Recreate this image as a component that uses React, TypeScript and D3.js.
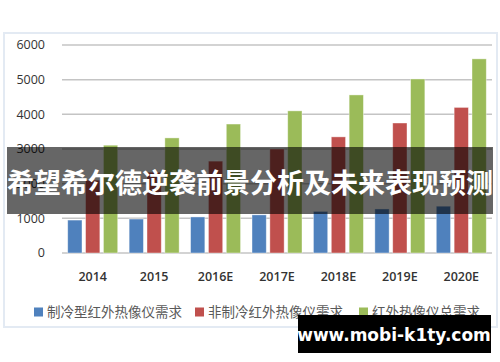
import React, { useEffect, useRef } from "react";
import * as d3 from "d3";

const categories = ["2014", "2015", "2016E", "2017E", "2018E", "2019E", "2020E"];
const seriesNames = ["制冷型红外热像仪需求", "非制冷红外热像仪需求", "红外热像仪总需求"];
const cooled = [950, 980, 1040, 1100, 1200, 1270, 1350];
const uncooled = [2100, 2330, 2650, 3000, 3350, 3750, 4200];
const total = [3110, 3320, 3720, 4100, 4560, 5020, 5600];
const yTicks = [0, 1000, 2000, 3000, 4000, 5000, 6000];
const colors = ["#4f81bd", "#c0504d", "#9bbb59"];
const bannerText = "希望希尔德逆袭前景分析及未来表现预测";
const watermark = "www.mobi-k1ty.com";

export default function App() {
  const ref = useRef<SVGSVGElement>(null);

  useEffect(() => {
    const svg = d3.select(ref.current);
    svg.selectAll("*").remove();

    const values = [cooled, uncooled, total];
    const left = 62, right = 492, top = 45, bottom = 253;

    // chart frame
    svg.append("rect")
      .attr("x", 4).attr("y", 33).attr("width", 493).attr("height", 294)
      .attr("fill", "#fff").attr("stroke", "#e3eaf3").attr("stroke-width", 2);

    var x0 = d3.scaleBand().domain(categories).range([left, right])
      .paddingInner(0.186).paddingOuter(0.093);
    var x1 = d3.scaleBand().domain(["0", "1", "2"]).range([0, x0.bandwidth()])
      .paddingInner(0.2);
    var y = d3.scaleLinear().domain([0, 6000]).range([bottom, top]);

    // gridlines
    svg.append("g").selectAll("line").data(yTicks).enter().append("line")
      .attr("x1", left).attr("x2", right)
      .attr("y1", d => y(d)).attr("y2", d => y(d))
      .attr("stroke", "#c4c4c4").attr("stroke-width", 1.5);

    // y labels
    svg.append("g").selectAll("text").data(yTicks).enter().append("text")
      .attr("x", 45).attr("y", d => y(d))
      .attr("dy", "0.35em")
      .attr("text-anchor", "end")
      .style("font-family", "'Open Sans', 'Liberation Sans', sans-serif")
      .style("font-size", "12.5px")
      .style("fill", "#333")
      .text(d => d);

    // bars
    values.forEach(function (vals, s) {
      svg.append("g").selectAll("rect").data(vals).enter().append("rect")
        .attr("x", (d, i) => (x0(categories[i]) as number) + (x1(String(s)) as number))
        .attr("width", x1.bandwidth())
        .attr("y", d => y(d))
        .attr("height", d => bottom - y(d))
        .attr("fill", colors[s])
        .attr("stroke", "rgba(255,255,255,0.5)")
        .attr("stroke-width", 0.8);
    });

    // x labels
    svg.append("g").selectAll("text").data(categories).enter().append("text")
      .attr("x", d => (x0(d) as number) + x0.bandwidth() / 2)
      .attr("y", 277).attr("dy", "0.35em")
      .attr("text-anchor", "middle")
      .style("font-family", "'Open Sans', 'Liberation Sans', sans-serif")
      .style("font-size", "12.5px")
      .style("font-weight", 600)
      .style("fill", "#333")
      .text(d => d);

    // legend
    const legendX = [34, 195, 359];
    const lg = svg.append("g").selectAll("g").data(seriesNames).enter().append("g")
      .attr("transform", (d, i) => "translate(" + legendX[i] + ",312)");
    lg.append("rect").attr("x", 0).attr("y", -4.5).attr("width", 9).attr("height", 9)
      .attr("fill", (d, i) => colors[i]);
    lg.append("text").attr("x", 13).attr("y", 0).attr("dy", "0.35em")
      .style("font-family", "'Noto Sans CJK SC', sans-serif")
      .style("font-size", "13.5px")
      .style("fill", "#595959")
      .text(d => d);

    // dark banner
    svg.append("rect")
      .attr("x", 7).attr("y", 147).attr("width", 486).attr("height", 67)
      .attr("fill", "#000").attr("fill-opacity", 0.6);
    svg.append("text")
      .attr("x", 250).attr("y", 184).attr("dy", "0.35em")
      .attr("text-anchor", "middle")
      .style("font-family", "'Noto Sans CJK SC', sans-serif")
      .style("font-size", "27px")
      .style("font-weight", 700)
      .style("fill", "#fff")
      .text(bannerText);

    // watermark
    svg.append("rect")
      .attr("x", 298).attr("y", 315).attr("width", 193).attr("height", 38)
      .attr("fill", "#000");
    svg.append("text")
      .attr("x", 394).attr("y", 335).attr("dy", "0.35em")
      .attr("text-anchor", "middle")
      .style("font-family", "'DejaVu Sans', sans-serif")
      .style("font-size", "17px")
      .style("font-weight", 700)
      .style("fill", "#fff")
      .text(watermark);
  }, []);

  return (
    <svg ref={ref} width={500} height={362}
      style={{ position: "absolute", left: 0, top: 0, background: "#fff" }} />
  );
}
